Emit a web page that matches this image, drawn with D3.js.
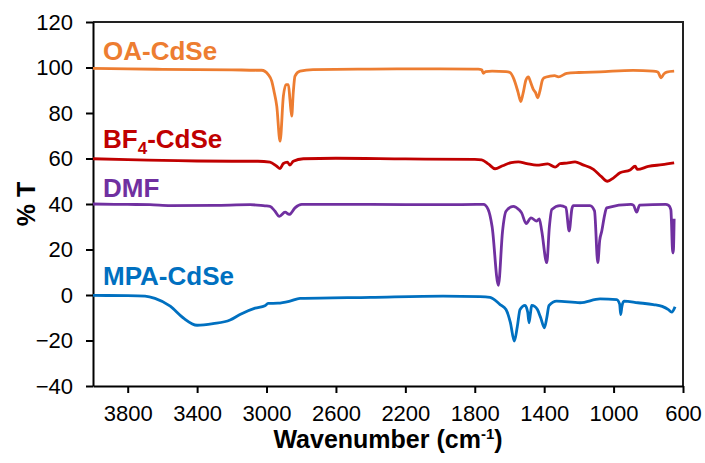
<!DOCTYPE html>
<html>
<head>
<meta charset="utf-8">
<script src="https://cdn.jsdelivr.net/npm/d3@7"></script>
<style>
  body { margin: 0; background: #fff; }
  text { font-family: Arial, "Liberation Sans", sans-serif; }
</style>
</head>
<body>
<div id="chart"></div>
<script>
// wavenumber (cm-1) and %T
const oaWave = [4000, 3800, 3600, 3400, 3200, 3060, 3028, 2990, 2970, 2957, 2941, 2922, 2903, 2888, 2874, 2865, 2855, 2846, 2836, 2807, 2732, 2400, 2000, 1780, 1760, 1750, 1738, 1700, 1620, 1597, 1575, 1550, 1535, 1522, 1505, 1491, 1478, 1462, 1450, 1437, 1425, 1410, 1400, 1366, 1340, 1318, 1270, 1200, 1078, 888, 773, 745, 726, 710, 694, 651];
const oaT = [99.6, 99.4, 99.2, 99.1, 99.0, 98.8, 98.8, 96.9, 94.0, 89.6, 83.0, 67.6, 87.4, 92.5, 92.5, 85.9, 78.6, 88.9, 96.2, 98.4, 99.1, 99.3, 99.4, 99.3, 99.0, 97.4, 98.2, 98.4, 98.2, 97.8, 95.0, 89.0, 85.0, 88.5, 94.5, 95.9, 93.5, 90.3, 89.0, 86.7, 89.5, 94.5, 95.5, 96.2, 96.4, 95.9, 97.4, 97.8, 98.1, 98.7, 98.4, 98.0, 95.5, 97.2, 98.0, 98.4];

const bfWave = [4000, 3800, 3600, 3400, 3200, 3050, 2980, 2941, 2922, 2903, 2880, 2865, 2846, 2788, 2600, 2200, 1800, 1760, 1720, 1683, 1640, 1590, 1549, 1500, 1443, 1380, 1337, 1308, 1270, 1222, 1180, 1116, 1070, 1036, 1000, 963, 905, 876, 863, 800, 720, 651];
const bfT = [59.9, 59.5, 59.2, 58.9, 58.8, 58.8, 58.4, 56.6, 55.6, 57.8, 58.4, 57.1, 58.8, 59.9, 60.1, 59.8, 59.6, 59.4, 57.5, 55.5, 56.8, 58.2, 58.5, 57.8, 57.1, 57.6, 56.2, 57.7, 58.0, 58.5, 57.3, 55.2, 52.0, 50.0, 51.5, 53.7, 54.9, 56.6, 55.2, 56.5, 57.3, 58.1];

const dmfWave = [4000, 3800, 3672, 3555, 3300, 3095, 3009, 2980, 2951, 2926, 2893, 2869, 2836, 2797, 2400, 2000, 1750, 1723, 1700, 1664, 1640, 1620, 1578, 1545, 1530, 1504, 1476, 1443, 1428, 1414, 1385, 1370, 1356, 1308, 1275, 1256, 1240, 1232, 1136, 1110, 1091, 1080, 1068, 1052, 1040, 900, 886, 867, 850, 700, 684, 670, 659, 655, 651];
const dmfT = [40.0, 39.8, 39.7, 39.3, 39.4, 39.7, 39.2, 39.0, 36.8, 34.6, 36.4, 35.4, 38.3, 39.8, 39.8, 39.7, 39.8, 37.6, 30.0, 4.2, 28.0, 36.8, 39.0, 37.5, 36.1, 31.4, 33.9, 32.5, 33.5, 28.1, 14.2, 30.0, 37.6, 39.3, 38.5, 28.1, 38.0, 39.3, 39.3, 37.0, 14.2, 24.0, 28.1, 35.0, 38.3, 39.8, 39.5, 36.4, 39.5, 39.8, 39.5, 37.5, 18.5, 20.0, 33.5];

const mpaWave = [4000, 3800, 3700, 3643, 3555, 3481, 3400, 3308, 3210, 3153, 3066, 3009, 2991, 2934, 2865, 2807, 2400, 1983, 1770, 1712, 1654, 1620, 1595, 1572, 1555, 1539, 1510, 1495, 1487, 1479, 1472, 1455, 1439, 1420, 1399, 1385, 1372, 1328, 1193, 1078, 982, 965, 959, 952, 940, 860, 771, 720, 684, 665, 646];
const mpaT = [-0.2, -0.3, -0.5, -1.5, -4.9, -10.0, -13.3, -12.6, -11.0, -8.6, -5.8, -4.7, -3.7, -3.6, -2.7, -1.5, -1.0, -0.5, -0.7, -1.0, -4.2, -6.4, -12.0, -20.3, -14.0, -6.4, -4.6, -7.5, -12.2, -8.0, -4.6, -5.0, -6.4, -10.0, -14.4, -10.0, -4.6, -2.7, -3.4, -1.7, -2.0, -4.0, -8.6, -5.0, -2.7, -3.4, -4.2, -5.0, -6.4, -7.5, -5.2];

const seriesNames = ["OA-CdSe", "BF4-CdSe", "DMF", "MPA-CdSe"];
const seriesColors = ["#ED7D31", "#C00000", "#7030A0", "#0070C0"];
const xTicks = [3800, 3400, 3000, 2600, 2200, 1800, 1400, 1000, 600];
const yTicks = [-40, -20, 0, 20, 40, 60, 80, 100, 120];

const W = 705, H = 463;
const margin = { top: 22, right: 22, bottom: 77, left: 93 };
const width = W - margin.left - margin.right,
  height = H - margin.top - margin.bottom;

const x = d3.scaleLinear().domain([4000, 600]).range([0, width]);
const y = d3.scaleLinear().domain([-40, 120]).range([height, 0]);

const svg = d3
  .select("#chart")
  .append("svg")
  .attr("width", W)
  .attr("height", H)
  .append("g")
  .attr("transform", "translate(" + margin.left + "," + margin.top + ")");

// frame (top and right sides)
svg
  .append("path")
  .attr("d", "M0,0H" + width + "V" + height)
  .attr("fill", "none")
  .attr("stroke", "#222")
  .attr("stroke-width", 2);

const xAxis = d3
  .axisBottom(x)
  .tickValues(xTicks)
  .tickFormat(d3.format("d"))
  .tickSize(7)
  .tickPadding(12)
  .tickSizeOuter(0);
const yAxis = d3
  .axisLeft(y)
  .tickValues(yTicks)
  .tickFormat(d3.format("d"))
  .tickSize(7)
  .tickPadding(13)
  .tickSizeOuter(0);

svg
  .append("g")
  .attr("transform", "translate(0," + height + ")")
  .call(xAxis)
  .call(g => g.selectAll("path, line").attr("stroke", "#000").attr("stroke-width", 2))
  .selectAll("text")
  .style("font-size", "22px")
  .attr("fill", "#000");

svg
  .append("g")
  .call(yAxis)
  .call(g => g.selectAll("path, line").attr("stroke", "#000").attr("stroke-width", 2))
  .selectAll("text")
  .style("font-size", "22px")
  .attr("fill", "#000");

const allData = [
  d3.zip(oaWave, oaT),
  d3.zip(bfWave, bfT),
  d3.zip(dmfWave, dmfT),
  d3.zip(mpaWave, mpaT)
];

const line = d3
  .line()
  .x(d => x(d[0]))
  .y(d => y(d[1]))
  .curve(d3.curveMonotoneX);

svg
  .selectAll(".spectrum")
  .data(allData)
  .enter()
  .append("path")
  .attr("class", "spectrum")
  .attr("fill", "none")
  .attr("stroke", (d, i) => seriesColors[i])
  .attr("stroke-width", 2.8)
  .attr("stroke-linejoin", "round")
  .attr("d", line);

// series labels
const labelY = [38, 126, 175, 263];
labelY.forEach((ly, i) => {
  const t = svg
    .append("text")
    .attr("x", 10)
    .attr("y", ly)
    .attr("fill", seriesColors[i])
    .style("font-size", "26px")
    .style("font-weight", "bold");
  if (seriesNames[i] === "BF4-CdSe") {
    t.append("tspan").text("BF");
    t.append("tspan").attr("dy", 6).style("font-size", "17px").text("4");
    t.append("tspan").attr("dy", -6).text("-CdSe");
  } else {
    t.text(seriesNames[i]);
  }
});

// axis titles
svg
  .append("text")
  .attr("transform", "translate(-58," + (height / 2) + ") rotate(-90)")
  .attr("text-anchor", "middle")
  .style("font-size", "25px")
  .style("font-weight", "bold")
  .text("% T");

const xt = svg
  .append("text")
  .attr("x", width / 2)
  .attr("y", height + 62)
  .attr("text-anchor", "middle")
  .style("font-size", "25px")
  .style("font-weight", "bold");
xt.append("tspan").text("Wavenumber (cm");
xt.append("tspan").attr("dy", -9).style("font-size", "15px").text("-1");
xt.append("tspan").attr("dy", 9).text(")");
</script>
</body>
</html>
